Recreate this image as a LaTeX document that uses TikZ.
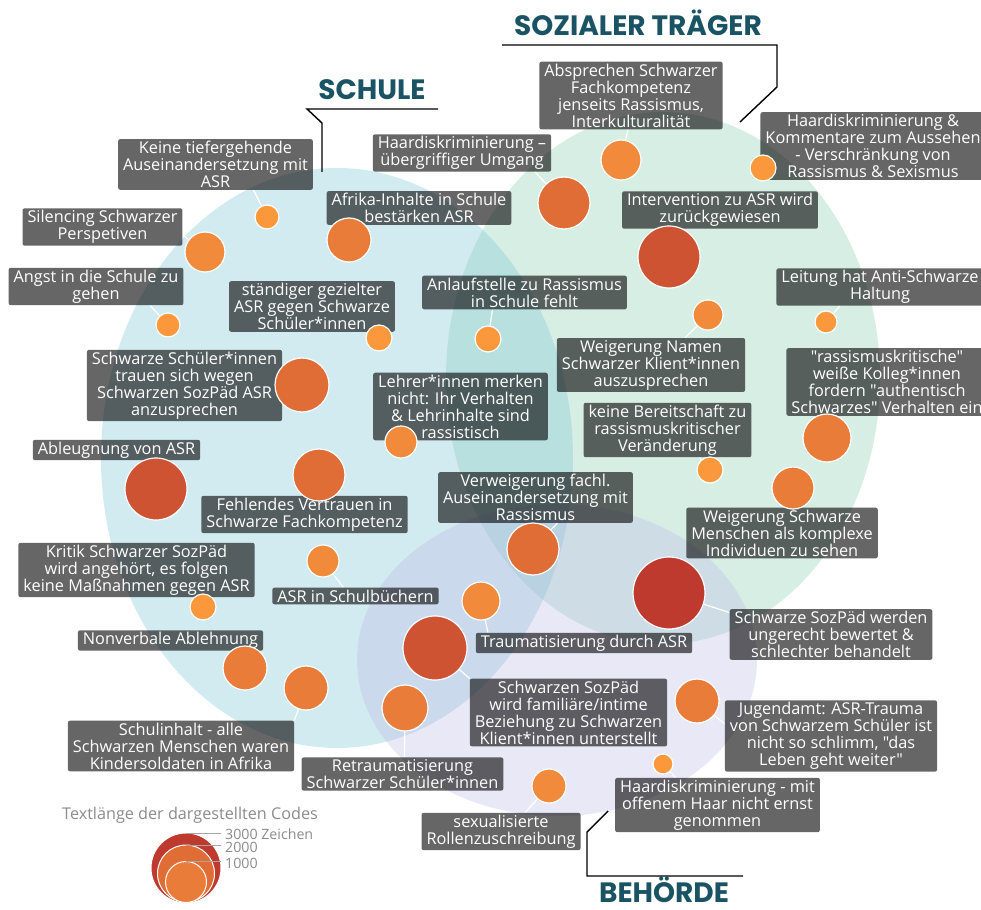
\documentclass[tikz,border=0pt]{standalone}
\usepackage{fontspec}
\setmainfont{Open Sans}[Ligatures=TeXOff]
\newfontfamily\headfont{Poppins}
\definecolor{schulefill}{RGB}{127,200,214}
\definecolor{traegerfill}{RGB}{143,209,181}
\definecolor{behoerdefill}{RGB}{185,179,230}
\definecolor{headteal}{RGB}{26,84,100}
\definecolor{codeA}{RGB}{251,152,60}
\definecolor{codeB}{RGB}{242,138,60}
\definecolor{codeC}{RGB}{234,124,58}
\definecolor{codeD}{RGB}{224,108,54}
\definecolor{codeE}{RGB}{205,83,50}
\definecolor{codeF}{RGB}{190,57,46}
\pgfdeclarelayer{fields}
\pgfdeclarelayer{links}
\pgfsetlayers{fields,links,main}
\tikzset{
  codebox/.style={fill=black, fill opacity=0.6, text opacity=1, text=white, rounded corners=2pt,
    inner xsep=5pt, inner ysep=2pt, align=center, font=\fontsize{16.3}{17}\selectfont},
  bubble/.style={circle, draw=white, line width=1.2pt, inner sep=0pt, minimum size=#1},
  link/.style={draw=white, line width=1.2pt},
  header/.style={font=\headfont\bfseries\fontsize{28}{30}\selectfont, text=headteal, anchor=base,
    inner sep=0pt, text depth=0pt},
  bracket/.style={draw=black, line width=1.4pt},
  legendline/.style={draw=black!35, line width=1pt},
  legendtext/.style={text=black!45, inner sep=0pt, anchor=base west, text height=9.5pt, text depth=0pt,
    font=\fontsize{14.2}{15}\selectfont},
}
\begin{document}
\begin{tikzpicture}[x=1pt, y=-1pt]
\useasboundingbox (0,0) rectangle (981,909);

% the three fields
\begin{pgfonlayer}{fields}
\fill[white] (0,0) rectangle (981,909);
\fill[traegerfill, opacity=0.35] (663,378) ellipse [x radius=217, y radius=266];
\fill[schulefill, opacity=0.35] (337,458) ellipse [x radius=236, y radius=290];
\fill[behoerdefill, opacity=0.3] (557,660) ellipse [x radius=200, y radius=156];
\end{pgfonlayer}

% headers
\node[header] (schule) at (372,100) {SCHULE};
\node[header] (traeger) at (638,36) {SOZIALER TRÄGER};
\node[header] (behoerde) at (664,902) {BEHÖRDE};
\draw[bracket] (438,109) -- (307,109) -- (322,123) -- (322,172);
\draw[bracket] (502,45) -- (777,45) -- (777,87) -- (740,122);
\draw[bracket] (743,876) -- (587,876) -- (587,832) -- (608,811);

% labels
\node[codebox] (l1) at (215.5,164.5) {Keine tiefergehende\\Auseinandersetzung mit\\ASR};
\node[codebox] (l2) at (102.5,227) {Silencing Schwarzer\\Perspetiven};
\node[codebox] (l3) at (96,286.5) {Angst in die Schule zu\\gehen};
\node[codebox] (l4) at (419,208) {Afrika-Inhalte in Schule\\bestärken ASR};
\node[codebox] (l5) at (312,306.5) {ständiger gezielter\\ASR gegen Schwarze\\Schüler*innen};
\node[codebox] (l6) at (462,153) {Haardiskriminierung –\\übergriffiger Umgang};
\node[codebox] (l7) at (631,95.5) {Absprechen Schwarzer\\Fachkompetenz\\jenseits Rassismus,\\Interkulturalität};
\node[codebox] (l8) at (873,146) {Haardiskriminierung \&\\Kommentare zum Aussehen\\- Verschränkung von\\Rassismus \& Sexismus};
\node[codebox] (l9) at (720,210) {Intervention zu ASR wird\\zurückgewiesen};
\node[codebox] (l10) at (880,287) {Leitung hat Anti-Schwarze\\Haltung};
\node[codebox] (l11) at (524.5,292.5) {Anlaufstelle zu Rassismus\\in Schule fehlt};
\node[codebox] (l12) at (651,365) {Weigerung Namen\\Schwarzer Klient*innen\\auszusprechen};
\node[codebox] (l13) at (667.5,430) {keine Bereitschaft zu\\rassismuskritischer\\Veränderung};
\node[codebox] (l14) at (887,382) {"rassismuskritische"\\weiße Kolleg*innen\\fordern "authentisch\\Schwarzes" Verhalten ein};
\node[codebox] (l15) at (782,533) {Weigerung Schwarze\\Menschen als komplexe\\Individuen zu sehen};
\node[codebox] (l16) at (535.5,497.5) {Verweigerung fachl.\\Auseinandersetzung mit\\Rassismus};
\node[codebox] (l17) at (831,634.5) {Schwarze SozPäd werden\\ungerecht bewertet \&\\schlechter behandelt};
\node[codebox] (l18) at (584,643) {Traumatisierung durch ASR};
\node[codebox] (l19) at (568.5,712.5) {Schwarzen SozPäd\\wird familiäre/intime\\Beziehung zu Schwarzen\\Klient*innen unterstellt};
\node[codebox] (l20) at (831,736) {Jugendamt: ASR-Trauma\\von Schwarzem Schüler ist\\nicht so schlimm, "das\\Leben geht weiter"};
\node[codebox] (l21) at (717.5,805) {Haardiskriminierung - mit\\offenem Haar nicht ernst\\genommen};
\node[codebox] (l22) at (501,831.5) {sexualisierte\\Rollenzuschreibung};
\node[codebox] (l23) at (402.5,774) {Retraumatisierung\\Schwarzer Schüler*innen};
\node[codebox] (l24) at (181,746) {Schulinhalt - alle\\Schwarzen Menschen waren\\Kindersoldaten in Afrika};
\node[codebox] (l25) at (170.5,640.5) {Nonverbale Ablehnung};
\node[codebox] (l26) at (136.5,570) {Kritik Schwarzer SozPäd\\wird angehört, es folgen\\keine Maßnahmen gegen ASR};
\node[codebox] (l27) at (355.5,596) {ASR in Schulbüchern};
\node[codebox] (l28) at (304.5,514.5) {Fehlendes Vertrauen in\\Schwarze Fachkompetenz};
\node[codebox] (l29) at (116.5,450) {Ableugnung von ASR};
\node[codebox] (l30) at (184.5,385.5) {Schwarze Schüler*innen\\trauen sich wegen\\Schwarzen SozPäd ASR\\anzusprechen};
\node[codebox] (l31) at (460.5,406.5) {Lehrer*innen merken\\nicht: Ihr Verhalten\\\& Lehrinhalte sind\\rassistisch};

% codes
\node[bubble=24, fill=codeA] (b1) at (267,217) {};
\node[bubble=40, fill=codeB] (b2) at (205,252) {};
\node[bubble=24, fill=codeA] (b3) at (168,325) {};
\node[bubble=44, fill=codeC] (b4) at (349,240) {};
\node[bubble=26, fill=codeA] (b5) at (379,338) {};
\node[bubble=52, fill=codeD] (b6) at (564,203) {};
\node[bubble=40, fill=codeB] (b7) at (621,160) {};
\node[bubble=26, fill=codeA] (b8) at (763,168) {};
\node[bubble=62, fill=codeE] (b9) at (669,257) {};
\node[bubble=22, fill=codeA] (b10) at (826,322) {};
\node[bubble=26, fill=codeA] (b11) at (488,339) {};
\node[bubble=30, fill=codeB] (b12) at (708,315) {};
\node[bubble=26, fill=codeA] (b13) at (710,470) {};
\node[bubble=48, fill=codeC] (b14) at (827,438) {};
\node[bubble=42, fill=codeC] (b15) at (793,488) {};
\node[bubble=52, fill=codeD] (b16) at (533,549) {};
\node[bubble=72, fill=codeF] (b17) at (669,593) {};
\node[bubble=38, fill=codeB] (b18) at (481,601) {};
\node[bubble=64, fill=codeE] (b19) at (435,648) {};
\node[bubble=44, fill=codeC] (b20) at (697,701) {};
\node[bubble=20, fill=codeA] (b21) at (663,764) {};
\node[bubble=34, fill=codeB] (b22) at (549,786) {};
\node[bubble=46, fill=codeC] (b23) at (405,708) {};
\node[bubble=44, fill=codeC] (b24) at (306,688) {};
\node[bubble=44, fill=codeC] (b25) at (245,668) {};
\node[bubble=26, fill=codeA] (b26) at (203,607) {};
\node[bubble=32, fill=codeB] (b27) at (323,561) {};
\node[bubble=52, fill=codeD] (b28) at (319,475) {};
\node[bubble=62, fill=codeE] (b29) at (156,489) {};
\node[bubble=54, fill=codeD] (b30) at (302,385) {};
\node[bubble=32, fill=codeB] (b31) at (401,442) {};

% links
\begin{pgfonlayer}{links}
\draw[link] (b1) -- ([xshift=38]l1.south);
\draw[link] (b2) -- ([yshift=-8]l2.east);
\draw[link] (b3) -- ([xshift=54]l3.south);
\draw[link] (b6) -- ([xshift=73]l6.south);
\draw[link] (b7) -- ([xshift=-3]l7.south);
\draw[link] (b10) -- ([xshift=-40]l10.south);
\draw[link] (b11) -- ([xshift=-32]l11.south);
\draw[link] (b12) -- ([xshift=34]l12.north);
\draw[link] (b13) -- ([xshift=32]l13.south);
\draw[link] (b16) -- ([xshift=22]l16.south);
\draw[link] (b17) -- ([yshift=22]l17.west);
\draw[link] (b18) -- ([xshift=-96]l18.north);
\draw[link] (b19) -- (l19.north west);
\draw[link] (b20) -- ([yshift=12]l20.west);
\draw[link] (b21) -- ([xshift=-42]l21.north);
\draw[link] (b22) -- ([xshift=24]l22.north);
\draw[link] (b23) -- ([xshift=2]l23.north);
\draw[link] (b24) -- (l24.north east);
\draw[link] (b27) -- ([xshift=-12]l27.north);
\end{pgfonlayer}

% legend
\node[text=black!45, font=\fontsize{16.2}{18}\selectfont] (legtitle) at (190,815) {Textlänge der dargestellten Codes};
\draw[fill=codeF, draw=white, line width=1pt] (186,868) circle [radius=35];
\draw[fill=codeD, draw=white, line width=1pt] (186,873.5) circle [radius=28.5];
\draw[fill=codeC, draw=white, line width=1pt] (186,882) circle [radius=20.5];
\draw[legendline] (186,833) -- (221,833);
\draw[legendline] (186,845) -- (221,845);
\draw[legendline] (186,861.5) -- (221,861.5);
\node[legendtext] (leg3000) at (225,839) {3000 Zeichen};
\node[legendtext] (leg2000) at (225,852) {2000};
\node[legendtext] (leg1000) at (225,868) {1000};
\end{tikzpicture}
\end{document}
